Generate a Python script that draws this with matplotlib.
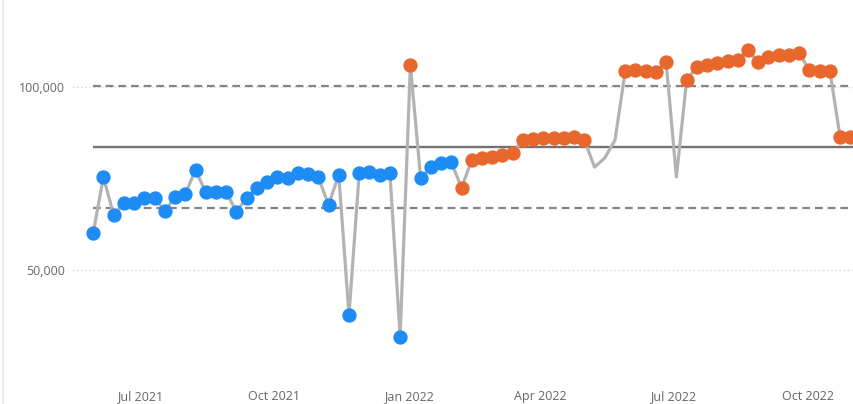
import pandas as pd
import matplotlib
matplotlib.use("Agg")
import matplotlib.pyplot as plt
import matplotlib.dates as mdates
from matplotlib.ticker import FixedLocator, StrMethodFormatter
from matplotlib.lines import Line2D

# weekly totals, first week starting 2021-05-30
first_week = "2021-05-30"
weekly_totals = [
    60100, 75400, 65000, 68300, 68300, 69700, 69700, 66100, 69900, 70800,
    77300, 71300, 71300, 71300, 65900, 69700, 72400, 74000, 75400, 75100,
    76500, 76200, 75400, 67800, 76000, 37700, 76500, 76800, 76000, 76500,
    31700, 106000, 75100, 78100, 79200, 79500, 72400, 80100, 80600, 80900,
    81400, 82000, 85500, 85800, 86100, 86100, 86100, 86300, 85500, 78100,
    80600, 85500, 104400, 104600, 104400, 104200, 106700, 75400, 101900, 105500,
    106000, 106600, 107100, 107400, 110100, 106800, 108200, 108700, 108700, 109300,
    104600, 104400, 104400, 86300, 86300,
]
# period of each week: "before" / "after" the change, "" = not flagged
period = (
    ["before"] * 31 + ["after"] + ["before"] * 4 + ["after"] * 13
    + [""] * 3 + ["after"] * 5 + [""] + ["after"] * 17
)

center_line = 83600
upper_limit = 100400
lower_limit = 66800

y_ticks = [50000, 100000]

dates = pd.date_range(first_week, periods=len(weekly_totals), freq="7D")
df = pd.DataFrame({"week": dates, "total": weekly_totals, "period": period})

plt.rcParams["font.family"] = ["Open Sans", "DejaVu Sans"]

fig = plt.figure(figsize=(8.54, 4.04), dpi=100)
ax = fig.add_axes([72 / 854, 1 - 375 / 404, 782 / 854, 355 / 404])

# control lines run from the first to the last week
x0, x1 = df["week"].iloc[0], df["week"].iloc[-1] + pd.Timedelta(days=5)
ax.hlines([upper_limit, lower_limit], x0, x1, colors="#858585",
          linestyles=(0, (3.5, 2.2)), linewidth=1.6, zorder=2)
ax.hlines(center_line, x0, x1, colors="#737373", linewidth=1.7, zorder=2)

ax.plot(df["week"], df["total"], color="#b3b3b3", linewidth=2.3, zorder=3)

colors = {"before": "#1e8cf5", "after": "#e8672c"}
for name, col in colors.items():
    sub = df[df["period"] == name]
    ax.plot(sub["week"], sub["total"], linestyle="none", marker="o",
            markersize=9.3, color=col, zorder=4)

ref = pd.Timestamp("2021-07-01")
ax.set_xlim(ref - pd.Timedelta(days=46.5), ref + pd.Timedelta(days=488.5))
ax.set_ylim(21300, 118300)

ax.xaxis.set_major_locator(mdates.MonthLocator(bymonth=[1, 4, 7, 10]))
ax.xaxis.set_major_formatter(mdates.DateFormatter("%b %Y"))
ax.yaxis.set_major_locator(FixedLocator(y_ticks))
ax.yaxis.set_major_formatter(StrMethodFormatter("{x:,.0f}"))

ax.tick_params(axis="both", length=0, labelsize=9, labelcolor="#666666")
ax.tick_params(axis="x", pad=11)
ax.tick_params(axis="y", pad=5)

ax.grid(axis="y", color="#e2e2e2", linestyle=(0, (1.5, 1.5)), linewidth=1)
ax.set_axisbelow(True)
for side in ax.spines.values():
    side.set_visible(False)

# thin frame edge on the left
fig.add_artist(Line2D([3 / 854, 3 / 854], [0, 1], color="#ececec",
                      linewidth=1.5, transform=fig.transFigure))

fig.savefig("out.png", dpi=100)
